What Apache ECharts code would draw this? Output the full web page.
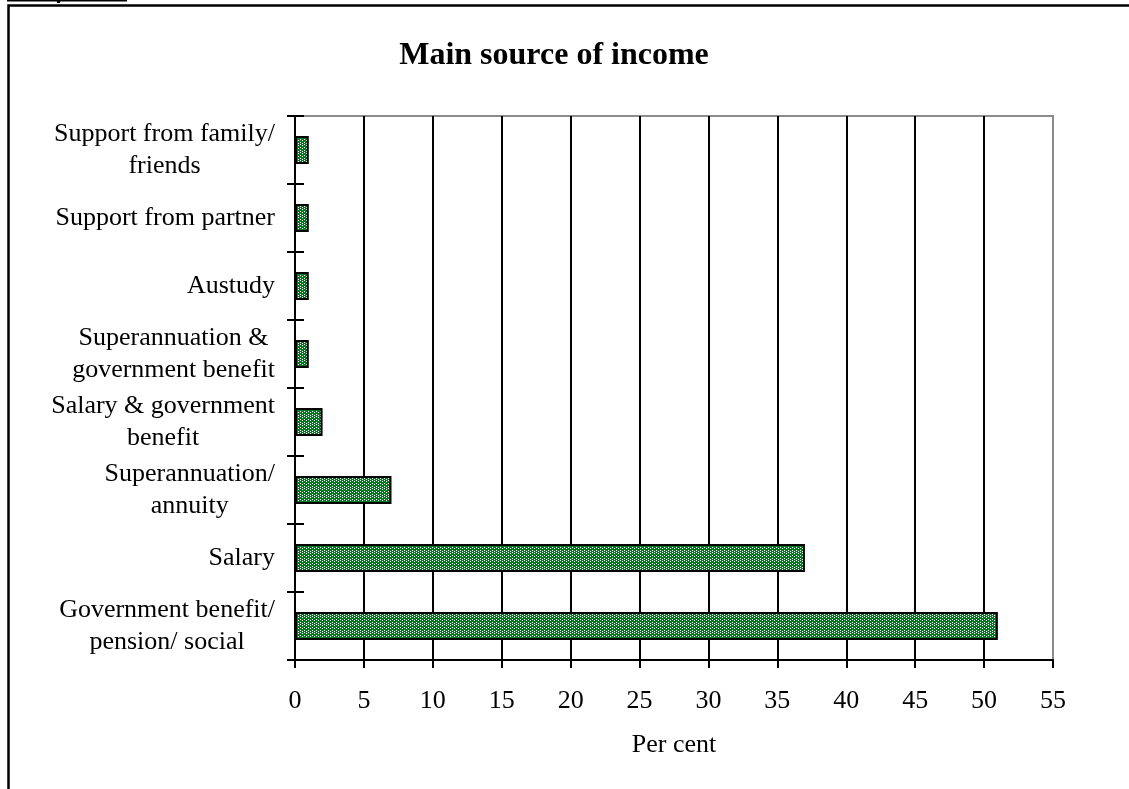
<!DOCTYPE html>
<html>
<head>
<meta charset="utf-8">
<script src="https://cdn.jsdelivr.net/npm/echarts@6/dist/echarts.min.js"></script>
<style>
  html, body { margin: 0; padding: 0; background: #ffffff; }
  #chart { width: 1129px; height: 789px; }
</style>
</head>
<body>
<div id="chart"></div>
<script>
// Income sources, listed from the bottom of the chart upwards
const categories = [
  'Government benefit/\npension/ social',
  'Salary',
  'Superannuation/\nannuity',
  'Salary & government\nbenefit',
  'Superannuation &\ngovernment benefit',
  'Austudy',
  'Support from partner',
  'Support from family/\nfriends'
];
const percentValues = [51, 37, 7, 2, 1, 1, 1, 1];
const titleText = 'Main source of income';
const axisTitle = 'Per cent';

const FONT = '"Liberation Serif", "Times New Roman", serif';

// Dotted green fill for the bars (8x8 tile of a small dot lattice)
function makeDotPattern() {
  const c = document.createElement('canvas');
  c.width = 8; c.height = 8;
  const g = c.getContext('2d');
  g.fillStyle = '#007a20';
  g.fillRect(0, 0, 8, 8);
  g.fillStyle = '#ffffff';
  const dots = [[0, 0], [4, 0], [2, 1], [6, 1], [0, 3], [4, 3], [2, 4], [6, 4], [0, 6], [4, 6], [2, 7], [6, 7]];
  dots.forEach(([x, y]) => g.fillRect(x, y, 1, 1));
  return c;
}

const chart = echarts.init(document.getElementById('chart'), null, { renderer: 'canvas' });

const labelFormatter = v => v.split('\n').map(s => '{c|' + s + '}').join('\n');

chart.setOption({
  backgroundColor: '#ffffff',
  animation: false,
  textStyle: { fontFamily: FONT },
  grid: {
    left: 295, right: 76, top: 116, bottom: 129,
    show: true, borderColor: '#8c8c8c', borderWidth: 2, backgroundColor: 'transparent'
  },
  xAxis: {
    type: 'value',
    min: 0, max: 55, interval: 5,
    name: axisTitle,
    nameLocation: 'middle',
    nameGap: 72,
    nameTextStyle: { fontFamily: FONT, fontSize: 26, color: '#000' },
    axisLine: { show: true, lineStyle: { color: '#000', width: 2 } },
    axisTick: { show: true, length: 8, lineStyle: { color: '#000', width: 2 } },
    axisLabel: { fontFamily: FONT, fontSize: 26, color: '#000', margin: 28 },
    splitLine: { show: true, showMinLine: false, showMaxLine: false, lineStyle: { color: '#000', width: 2 } }
  },
  yAxis: [
    {
      type: 'category',
      data: categories,
      position: 'left',
      axisLine: { show: true, onZero: false, lineStyle: { color: '#000', width: 2 } },
      axisTick: { show: true, length: 8, lineStyle: { color: '#000', width: 2 } },
      axisLabel: {
        fontFamily: FONT, fontSize: 26, color: '#000', margin: 20,
        lineHeight: 32,
        formatter: labelFormatter,
        rich: { c: { align: 'center', fontFamily: FONT, fontSize: 26, lineHeight: 32, color: '#000' } }
      },
      splitLine: { show: false }
    },
    {
      type: 'category',
      data: categories,
      position: 'left',
      offset: 0,
      axisLine: { show: false },
      axisTick: { show: true, inside: true, length: 9, lineStyle: { color: '#000', width: 2 } },
      axisLabel: { show: false },
      splitLine: { show: false }
    }
  ],
  series: [{
    type: 'bar',
    data: percentValues,
    barWidth: 28,
    itemStyle: {
      color: { image: makeDotPattern(), repeat: 'repeat' },
      borderColor: '#000',
      borderWidth: 2
    },
    z: 3
  }],
  graphic: [
    {
      type: 'text',
      x: 554, y: 56,
      style: {
        text: titleText,
        fontFamily: FONT, fontSize: 32, fontWeight: 'bold', fill: '#000',
        align: 'center', verticalAlign: 'middle'
      }
    },
    // page frame around the figure
    {
      type: 'polyline',
      shape: { points: [[8.5, 789], [8.5, 5.5], [1129, 5.5]] },
      style: { stroke: '#000', lineWidth: 2.5, fill: null }
    },
    {
      type: 'rect',
      shape: { x: 7, y: 0, width: 120, height: 1.5 },
      style: { fill: '#000' }
    },
    {
      type: 'rect',
      shape: { x: 57, y: 0, width: 3, height: 3 },
      style: { fill: '#000' }
    }
  ]
});
</script>
</body>
</html>
